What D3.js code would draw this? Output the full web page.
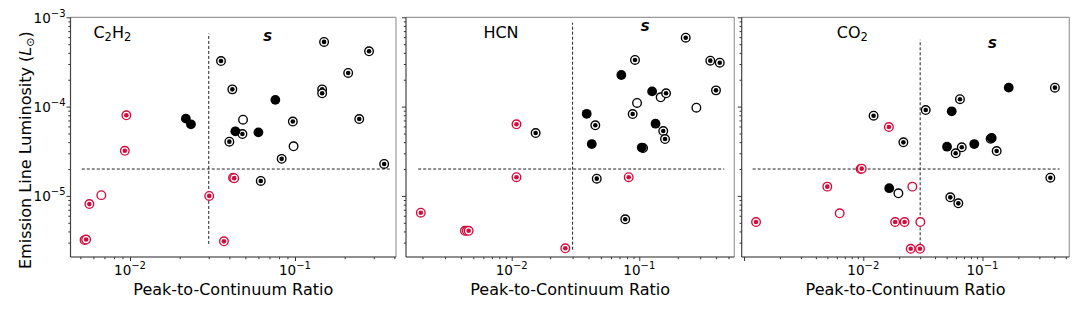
<!DOCTYPE html>
<html>
<head>
<meta charset="utf-8">
<script src="https://cdn.jsdelivr.net/npm/d3@7"></script>
<style>
  body { margin: 0; background: #fff; }
  svg { font-family: "DejaVu Sans", sans-serif; }
</style>
</head>
<body>
<div id="chart"></div>
<script>
// kind codes: k/r = black/red, d = ring with dot, f = filled, o = open
const c2h2X = [0.0356, 0.0417, 0.150, 0.281, 0.210, 0.146, 0.146, 0.048, 0.040, 0.097, 0.083, 0.245, 0.347, 0.062,
  0.0484, 0.098,
  0.076, 0.0218, 0.0234, 0.0435, 0.060,
  0.0067,
  0.0095, 0.0093, 0.00567, 0.0053, 0.00542, 0.0302, 0.0371, 0.0421, 0.0428];
const c2h2Y = [3.24e-4, 1.56e-4, 5.3e-4, 4.16e-4, 2.38e-4, 1.56e-4, 1.41e-4, 4.93e-5, 4.05e-5, 6.8e-5, 2.6e-5, 7.26e-5, 2.28e-5, 1.47e-5,
  7.13e-5, 3.59e-5,
  1.19e-4, 7.33e-5, 6.34e-5, 5.29e-5, 5.15e-5,
  1.02e-5,
  8.0e-5, 3.2e-5, 8.1e-6, 3.2e-6, 3.25e-6, 1.0e-5, 3.1e-6, 1.6e-5, 1.58e-5];
const c2h2Kind = ["kd","kd","kd","kd","kd","kd","kd","kd","kd","kd","kd","kd","kd","kd",
  "ko","ko",
  "kf","kf","kf","kf","kf",
  "ro",
  "rd","rd","rd","rd","rd","rd","rd","rd","rd"];

const hcnX = [0.147, 0.280, 0.096,
  0.231, 0.0925, 0.360, 0.427, 0.162, 0.399, 0.0887, 0.0452, 0.154, 0.159, 0.107, 0.0154, 0.0464, 0.0776,
  0.0723, 0.126, 0.0387, 0.134, 0.0424, 0.1045,
  0.0109, 0.0109, 0.0826, 0.00194, 0.0043, 0.00445, 0.0046, 0.0263];
const hcnY = [1.27e-4, 9.73e-5, 1.1e-4,
  5.91e-4, 3.33e-4, 3.27e-4, 3.1e-4, 1.41e-4, 1.52e-4, 8.25e-5, 6.18e-5, 5.33e-5, 4.33e-5, 3.44e-5, 5.06e-5, 1.56e-5, 5.47e-6,
  2.26e-4, 1.48e-4, 8.3e-5, 6.44e-5, 3.81e-5, 3.48e-5,
  6.34e-5, 1.62e-5, 1.62e-5, 6.49e-6, 4.07e-6, 4.07e-6, 4.07e-6, 2.59e-6];
const hcnKind = ["ko","ko","ko",
  "kd","kd","kd","kd","kd","kd","kd","kd","kd","kd","kd","kd","kd","kd",
  "kf","kf","kf","kf","kf","kf",
  "rd","rd","rd","rd","rd","rd","rd","rd"];

const co2X = [0.0197,
  0.405, 0.0647, 0.0334, 0.0122, 0.0217, 0.067, 0.0596, 0.117, 0.1315, 0.371, 0.0537, 0.0627,
  0.166, 0.0552, 0.0504, 0.0853, 0.1195, 0.0165,
  0.0258, 0.00634, 0.0301,
  0.0164, 0.0095, 0.0097, 0.00499, 0.00126, 0.0185, 0.0222, 0.025, 0.0299];
const co2Y = [1.07e-5,
  1.63e-4, 1.21e-4, 9.16e-5, 7.9e-5, 3.98e-5, 3.5e-5, 3.0e-5, 4.37e-5, 3.18e-5, 1.6e-5, 9.64e-6, 8.26e-6,
  1.63e-4, 8.86e-5, 3.56e-5, 3.81e-5, 4.45e-5, 1.22e-5,
  1.27e-5, 6.38e-6, 5.1e-6,
  5.91e-5, 2.0e-5, 2.02e-5, 1.27e-5, 5.1e-6, 5.1e-6, 5.1e-6, 2.56e-6, 2.56e-6];
const co2Kind = ["ko",
  "kd","kd","kd","kd","kd","kd","kd","kd","kd","kd","kd","kd",
  "kf","kf","kf","kf","kf","kf",
  "ro","ro","ro",
  "rd","rd","rd","rd","rd","rd","rd","rd","rd"];

// panel titles, x limits and threshold lines
const molecules = [["C", "2", "H", "2"], ["HCN"], ["CO", "2"]];
const xLimits = [[0.004358, 0.4093], [0.001485, 0.5551], [0.000955, 0.5349]];
const yLimits = [2.07e-6, 1e-3];
const ratioCut = 0.03, lumCut = 2e-5;
const vLineSpan = [[2.9e-6, 6.6e-4], [2.5e-6, 8.7e-4], [2.8e-6, 5.6e-4]];
const hLineSpan = [[0.0051, 0.377], [0.00185, 0.463], [0.00118, 0.443]];
const sLabelPos = [[0.0683, 5.47e-4], [0.111, 7.03e-4], [0.121, 4.5e-4]];
const titlePos = [0.006, 5.86e-4];
const xTickLabels = [0.01, 0.1];
const yTickLabels = [1e-5, 1e-4, 1e-3];

const panelData = [[c2h2X, c2h2Y, c2h2Kind], [hcnX, hcnY, hcnKind], [co2X, co2Y, co2Kind]];
const panelLeft = [70.5, 406, 741.7], panelRight = [396, 734.3, 1069.3];
const plotTop = 17.3, plotBottom = 257;
const red = "#d30b3c";

const svg = d3.select("#chart").append("svg")
  .attr("width", 1080).attr("height", 310);

const y = d3.scaleLog().domain(yLimits).range([plotBottom, plotTop]);

function powLabel(sel, v) {
  const e = Math.round(Math.log10(v));
  sel.text(null);
  sel.append("tspan").text("10");
  sel.append("tspan").attr("font-size", 10).attr("dy", -6).text("\u2212" + Math.abs(e));
}

function minorTicks(lo, hi) {
  const out = [];
  for (let e = Math.floor(Math.log10(lo)); e <= Math.ceil(Math.log10(hi)); e++) {
    for (let m = 1; m <= 9; m++) {
      const v = m * Math.pow(10, e);
      if (v >= lo * 0.999 && v <= hi * 1.001) out.push(v);
    }
  }
  return out;
}

const isMajor = d => Math.abs(Math.log10(d) - Math.round(Math.log10(d))) < 1e-6;

panelData.forEach(function (pd, i) {
  const x = d3.scaleLog().domain(xLimits[i]).range([panelLeft[i], panelRight[i]]);
  const g = svg.append("g");

  // threshold lines
  g.append("line")
    .attr("x1", x(ratioCut)).attr("x2", x(ratioCut))
    .attr("y1", y(vLineSpan[i][0])).attr("y2", y(vLineSpan[i][1]))
    .attr("stroke", "#222").attr("stroke-width", 1).attr("stroke-dasharray", "3,2");
  g.append("line")
    .attr("x1", x(hLineSpan[i][0])).attr("x2", x(hLineSpan[i][1]))
    .attr("y1", y(lumCut)).attr("y2", y(lumCut))
    .attr("stroke", "#222").attr("stroke-width", 1).attr("stroke-dasharray", "3,2");

  // markers
  const pts = pd[0].map((v, j) => ({ x: v, y: pd[1][j], kind: pd[2][j] }));
  pts.forEach(function (d) {
    const col = d.kind[0] === "r" ? red : "#000";
    const t = d.kind[1];
    if (t === "f") {
      g.append("circle").attr("cx", x(d.x)).attr("cy", y(d.y)).attr("r", 4.9).attr("fill", col);
    } else {
      g.append("circle").attr("cx", x(d.x)).attr("cy", y(d.y)).attr("r", 4.3)
        .attr("fill", "#fff").attr("stroke", col).attr("stroke-width", 1.35);
      if (t === "d") {
        g.append("circle").attr("cx", x(d.x)).attr("cy", y(d.y)).attr("r", 2.3).attr("fill", col);
      }
    }
  });

  // molecule name
  const title = g.append("text")
    .attr("x", x(titlePos[0])).attr("y", y(titlePos[1]))
    .attr("font-size", 16).attr("fill", "#000");
  molecules[i].forEach(function (part, k) {
    const sub = /^\d$/.test(part);
    title.append("tspan")
      .attr("font-size", sub ? 11.5 : 16)
      .attr("dy", sub ? 3 : (k > 0 ? -3 : 0))
      .text(part);
  });

  // "S" marker
  g.append("text")
    .attr("x", x(sLabelPos[i][0])).attr("y", y(sLabelPos[i][1]))
    .attr("text-anchor", "middle").attr("font-size", 13)
    .attr("font-weight", "bold").attr("font-style", "italic")
    .text("S");

  // spines
  g.append("line").attr("x1", panelLeft[i]).attr("x2", panelRight[i]).attr("y1", plotTop).attr("y2", plotTop)
    .attr("stroke", "#999").attr("stroke-width", 1.2);
  g.append("line").attr("x1", panelRight[i]).attr("x2", panelRight[i]).attr("y1", plotTop).attr("y2", plotBottom)
    .attr("stroke", "#999").attr("stroke-width", 1.2);
  g.append("line").attr("x1", panelLeft[i]).attr("x2", panelLeft[i]).attr("y1", plotTop).attr("y2", plotBottom)
    .attr("stroke", "#444").attr("stroke-width", 1.2);
  g.append("line").attr("x1", panelLeft[i]).attr("x2", panelRight[i]).attr("y1", plotBottom).attr("y2", plotBottom)
    .attr("stroke", "#222").attr("stroke-width", 1.2);

  // x axis
  const xt = minorTicks(xLimits[i][0], xLimits[i][1]);
  const xAxis = d3.axisBottom(x).tickValues(xt)
    .tickSize(2).tickSizeOuter(0).tickFormat("");
  const xg = g.append("g").attr("transform", "translate(0," + plotBottom + ")").call(xAxis);
  xg.select(".domain").remove();
  xg.selectAll(".tick line")
    .attr("stroke", "#333")
    .attr("y2", d => isMajor(d) ? 4 : 2.2);
  xTickLabels.forEach(function (v) {
    const tx = g.append("text").attr("x", x(v)).attr("y", 275)
      .attr("text-anchor", "middle").attr("font-size", 13.5).attr("fill", "#000");
    powLabel(tx, v);
  });
  g.append("text").attr("x", (panelLeft[i] + panelRight[i]) / 2).attr("y", 295)
    .attr("text-anchor", "middle").attr("font-size", 16).attr("fill", "#000")
    .text("Peak-to-Continuum Ratio");

  // y axis
  const yt = minorTicks(yLimits[0], yLimits[1]);
  const yAxis = d3.axisLeft(y).tickValues(yt).tickSize(2).tickSizeOuter(0).tickFormat("");
  const yg = g.append("g").attr("transform", "translate(" + panelLeft[i] + ",0)").call(yAxis);
  yg.select(".domain").remove();
  yg.selectAll(".tick line")
    .attr("stroke", "#333")
    .attr("x2", d => isMajor(d) ? -4 : -2.2);
  if (i === 0) {
    yTickLabels.forEach(function (v) {
      const ty = g.append("text").attr("x", panelLeft[i] - 5).attr("y", y(v) + 5.5)
        .attr("text-anchor", "end").attr("font-size", 13.5).attr("fill", "#000");
      powLabel(ty, v);
    });
  }
});

// y axis title
const yTitle = svg.append("text")
  .attr("transform", "translate(31," + ((plotTop + plotBottom) / 2 + 13) + ") rotate(-90)")
  .attr("text-anchor", "middle").attr("font-size", 16).attr("fill", "#000");
yTitle.append("tspan").text("Emission Line Luminosity (");
yTitle.append("tspan").attr("font-style", "italic").text("L");
yTitle.append("tspan").attr("font-size", 11).attr("dy", 3).text("\u2299");
yTitle.append("tspan").attr("dy", -3).text(")");
</script>
</body>
</html>
